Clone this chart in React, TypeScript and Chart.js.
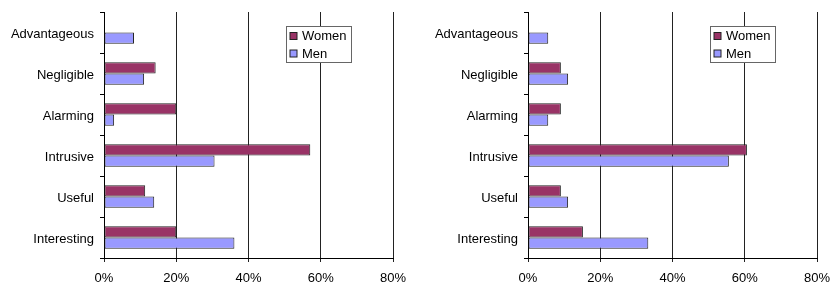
import React, { useEffect, useRef } from "react";
import { Chart, registerables } from "chart.js";

Chart.register(...registerables);

const categories = ["Advantageous", "Negligible", "Alarming", "Intrusive", "Useful", "Interesting"];
const seriesNames = ["Women", "Men"];
const leftWomen = [0, 14.3, 20, 57.1, 11.4, 20];
const leftMen = [8.3, 11.1, 2.8, 30.6, 13.9, 36.1];
const rightWomen = [0, 9.1, 9.1, 60.6, 9.1, 15.2];
const rightMen = [5.6, 11.1, 5.6, 55.6, 11.1, 33.3];
const xTicks = [0, 20, 40, 60, 80];

const FONT = "'Liberation Sans', Arial, sans-serif";
const WOMEN_COLOR = "#993366";
const MEN_COLOR = "#9999FF";

const legendPlugin = {
  id: "boxLegend",
  afterDraw(chart: any) {
    const { ctx, chartArea } = chart;
    const w = 65;
    const h = 36;
    const x = Math.round(chartArea.right - 107) + 0.5;
    const y = Math.round(chartArea.top + 14) + 0.5;
    ctx.save();
    ctx.fillStyle = "#ffffff";
    ctx.fillRect(x, y, w, h);
    ctx.strokeStyle = "#666666";
    ctx.lineWidth = 1;
    ctx.strokeRect(x, y, w, h);
    ctx.font = "13px " + FONT;
    ctx.textBaseline = "alphabetic";
    ctx.textAlign = "left";
    chart.data.datasets.forEach((ds: any, i: number) => {
      const sy = y + 6 + i * 17.5;
      ctx.fillStyle = ds.backgroundColor;
      ctx.fillRect(x + 3.5, sy, 7, 7);
      ctx.strokeStyle = "#222222";
      ctx.strokeRect(x + 3.5, sy, 7, 7);
      ctx.fillStyle = "#000000";
      ctx.fillText(ds.label, x + 15.5, sy + 7.5);
    });
    ctx.restore();
  },
};

function makeConfig(women: number[], men: number[], yWidth: number, padRight: number): any {
  return {
    type: "bar",
    data: {
      labels: categories,
      datasets: [
        {
          label: seriesNames[0],
          data: women,
          backgroundColor: WOMEN_COLOR,
          borderColor: "#222222",
          borderWidth: 1,
          borderSkipped: false,
          categoryPercentage: 0.55,
          barPercentage: 1,
        },
        {
          label: seriesNames[1],
          data: men,
          backgroundColor: MEN_COLOR,
          borderColor: "#222222",
          borderWidth: 1,
          borderSkipped: false,
          categoryPercentage: 0.55,
          barPercentage: 1,
        },
      ],
    },
    options: {
      indexAxis: "y",
      responsive: false,
      animation: false,
      layout: { padding: { left: 0, top: 12, right: padRight, bottom: 0 } },
      plugins: {
        legend: { display: false },
        tooltip: { enabled: false },
      },
      scales: {
        x: {
          min: xTicks[0],
          max: xTicks[xTicks.length - 1],
          afterBuildTicks: (s: any) => {
            s.ticks = xTicks.map((v) => ({ value: v }));
          },
          ticks: {
            callback: (v: any) => v + "%",
            font: { family: FONT, size: 13 },
            color: "#000000",
            padding: 9,
            maxRotation: 0,
          },
          grid: { color: "#222222", lineWidth: 1, tickLength: 4 },
          border: { color: "#000000", width: 1 },
          afterFit: (s: any) => {
            s.height = 26;
            s.paddingLeft = 0;
            s.paddingRight = 0;
          },
        },
        y: {
          ticks: {
            font: { family: FONT, size: 13 },
            color: "#000000",
            padding: 6,
            labelOffset: 1.5,
          },
          grid: { drawOnChartArea: false, tickLength: 4, color: "#000000", offset: true },
          border: { color: "#000000", width: 1 },
          afterFit: (s: any) => {
            s.width = yWidth;
            s.paddingTop = 0;
            s.paddingBottom = 0;
          },
        },
      },
    },
    plugins: [legendPlugin],
  };
}

function BarPanel({ women, men, yWidth, padRight }: { women: number[]; men: number[]; yWidth: number; padRight: number }) {
  const ref = useRef<HTMLCanvasElement | null>(null);
  useEffect(() => {
    if (!ref.current) return;
    const chart = new Chart(ref.current, makeConfig(women, men, yWidth, padRight));
    return () => chart.destroy();
  }, [women, men, yWidth, padRight]);
  return <canvas ref={ref} width={415} height={284} style={{ display: "block" }} />;
}

export default function App() {
  return (
    <div style={{ position: "absolute", left: 0, top: 0, width: 830, height: 284, background: "#fff" }}>
      <div style={{ position: "absolute", left: 0, top: 0, width: 415, height: 284 }}>
        <BarPanel women={leftWomen} men={leftMen} yWidth={104} padRight={22} />
      </div>
      <div style={{ position: "absolute", left: 415, top: 0, width: 415, height: 284 }}>
        <BarPanel women={rightWomen} men={rightMen} yWidth={113} padRight={13} />
      </div>
    </div>
  );
}
